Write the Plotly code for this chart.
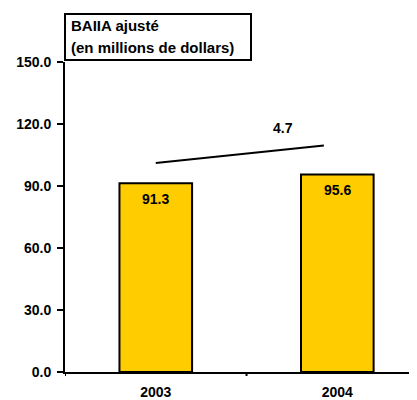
import plotly.graph_objects as go

years = ["2003", "2004"]
values = [91.3, 95.6]
growth_label = "4.7"
growth_line_x = [0.0, 0.926]
growth_line_y = [101.1, 109.6]
title_lines = ["BAIIA ajusté", "(en millions de dollars)"]
y_ticks = [0, 30, 60, 90, 120, 150]

FONT = "Arial, Liberation Sans, sans-serif"
# page body has an 8px margin, so the figure is 8px smaller each way
W, H = 409, 392
L, R, T, B = 57, 0, 54, 28
PH = H - T - B
PW = W - L - R

fig = go.Figure()
fig.add_trace(go.Bar(
    x=[0, 1], y=values, width=0.40,
    marker=dict(color="#FFCC00", line=dict(color="black", width=2)),
    hoverinfo="skip",
))
fig.add_trace(go.Scatter(
    x=growth_line_x, y=growth_line_y, mode="lines",
    line=dict(color="black", width=2), hoverinfo="skip",
))

for i, v in enumerate(values):
    fig.add_annotation(x=i, y=v, text=f"<b>{v:.1f}</b>", showarrow=False,
                       yanchor="middle", yshift=-16,
                       font=dict(family=FONT, size=14, color="black"))

fig.add_annotation(x=0.70, y=118.1, text=f"<b>{growth_label}</b>", showarrow=False,
                   yanchor="middle",
                   font=dict(family=FONT, size=14, color="black"))

# title box
fig.add_shape(type="rect", xref="paper", yref="paper",
              x0=0, x1=186 / PW,
              y0=1 + 2 / PH, y1=1 + 48 / PH,
              line=dict(color="black", width=2), fillcolor="white")
fig.add_annotation(xref="paper", yref="paper", x=4 / PW, y=1 + (62 - 26) / PH,
                   xanchor="left", yanchor="middle", showarrow=False,
                   text=f"<b>{title_lines[0]}</b>",
                   font=dict(family=FONT, size=15, color="black"))
fig.add_annotation(xref="paper", yref="paper", x=4 / PW, y=1 + (62 - 47) / PH,
                   xanchor="left", yanchor="middle", showarrow=False,
                   text=f"<b>{title_lines[1]}</b>",
                   font=dict(family=FONT, size=15, color="black"))

fig.update_layout(
    width=W, height=H,
    margin=dict(l=L, r=R, t=T, b=B, autoexpand=False),
    paper_bgcolor="white", plot_bgcolor="white",
    showlegend=False,
    font=dict(family=FONT, size=14, color="black"),
    xaxis=dict(
        range=[-0.5, 1.439],
        tickmode="array", tickvals=[0, 1], ticktext=[f"<b>{y}</b>" for y in years],
        ticks="", showline=True, linecolor="black", linewidth=2,
        showgrid=False, zeroline=False, fixedrange=True,
        ticklabelstandoff=6, automargin=False,
    ),
    yaxis=dict(
        range=[0, 150],
        tickmode="array", tickvals=y_ticks,
        ticktext=[f"<b>{t:.1f}</b>" for t in y_ticks],
        ticks="outside", ticklen=6, tickwidth=2, tickcolor="black",
        showline=True, linecolor="black", linewidth=2,
        showgrid=False, zeroline=False, fixedrange=True,
        ticklabelstandoff=3, automargin=False,
    ),
)

# boundary ticks on x axis
for bx in [-0.5, 0.5]:
    fig.add_shape(type="line", xref="x", yref="paper", x0=bx, x1=bx,
                  y0=0, y1=-4 / PH, line=dict(color="black", width=2))

fig.write_html("out.html")
